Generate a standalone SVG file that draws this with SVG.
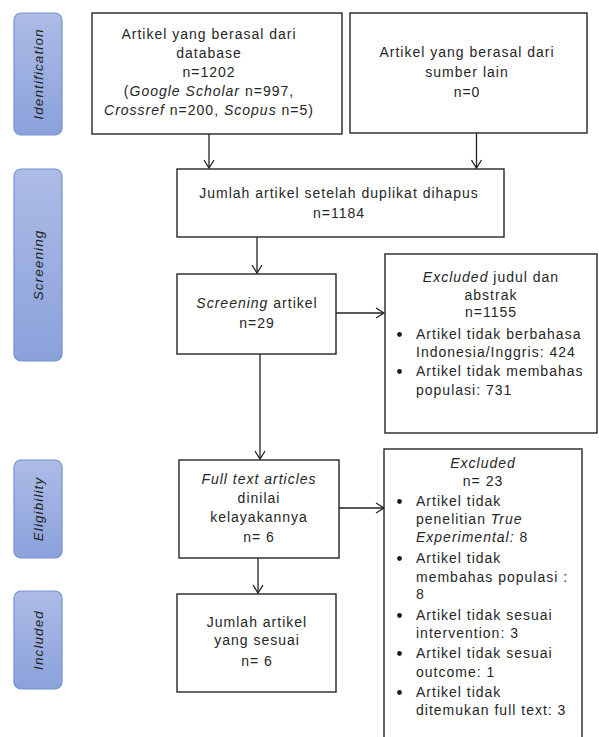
<svg xmlns="http://www.w3.org/2000/svg" width="599" height="737" viewBox="0 0 599 737">
<defs>
<linearGradient id="lblGrad" x1="0" y1="0" x2="0" y2="1">
<stop offset="0" stop-color="#adbce6"/>
<stop offset="1" stop-color="#8aa1db"/>
</linearGradient>
<marker id="arr" markerUnits="userSpaceOnUse" markerWidth="12" markerHeight="12" viewBox="-10 -6 12 12" refX="0" refY="0" orient="auto">
<path d="M-8,-5 L0,0 L-8,5" fill="none" stroke="#222" stroke-width="1.3"/>
</marker>
<style>
.box{fill:#fff;stroke:#262626;stroke-width:1.4}
.lbl{fill:url(#lblGrad);stroke:#7391d2;stroke-width:1.2}
.t{font-family:"Liberation Sans",Arial,sans-serif;font-size:14px;letter-spacing:1px;fill:#262626}
.c{text-anchor:middle}
.lt{font-family:"Liberation Sans",Arial,sans-serif;font-size:13.5px;font-style:italic;letter-spacing:1.1px;fill:#222;text-anchor:middle}
.i{font-style:italic}
.con{fill:none;stroke:#222;stroke-width:1.3;marker-end:url(#arr)}
.dot{fill:#1a1a1a}
</style>
</defs>
<rect width="599" height="737" fill="#fff"/>

<g id="label-identification">
<rect class="lbl" x="14" y="13" width="48" height="122" rx="7"/>
<text class="lt" transform="translate(42.5,74) rotate(-90)">Identification</text>
</g>
<g id="label-screening">
<rect class="lbl" x="14" y="169" width="48" height="192" rx="7"/>
<text class="lt" transform="translate(42.5,265) rotate(-90)">Screening</text>
</g>
<g id="label-eligibility">
<rect class="lbl" x="14" y="460" width="48" height="98" rx="7"/>
<text class="lt" transform="translate(42.5,509) rotate(-90)">Eligibility</text>
</g>
<g id="label-included">
<rect class="lbl" x="14" y="591" width="48" height="98" rx="7"/>
<text class="lt" transform="translate(42.5,640) rotate(-90)">Included</text>
</g>

<g id="connectors">
<path class="con" d="M209,134 V168"/>
<path class="con" d="M476.5,133 V168"/>
<path class="con" d="M257,237 V273"/>
<path class="con" d="M336,313 H384"/>
<path class="con" d="M260,354 V459"/>
<path class="con" d="M339,508 H384"/>
<path class="con" d="M258,558 V593"/>
</g>

<g id="node-database">
<rect class="box" x="92" y="13" width="250" height="121"/>
<text class="t c" x="209" y="39">Artikel yang berasal dari</text>
<text class="t c" x="209" y="58">database</text>
<text class="t c" x="209" y="77">n=1202</text>
<text class="t c" x="209" y="96">(<tspan class="i">Google Scholar</tspan> n=997,</text>
<text class="t c" x="209" y="115"><tspan class="i">Crossref</tspan> n=200, <tspan class="i">Scopus</tspan> n=5)</text>
</g>

<g id="node-other">
<rect class="box" x="350" y="13" width="237" height="120"/>
<text class="t c" x="467" y="57">Artikel yang berasal dari</text>
<text class="t c" x="467" y="77">sumber lain</text>
<text class="t c" x="467" y="97">n=0</text>
</g>

<g id="node-duplicates">
<rect class="box" x="177" y="169" width="327" height="68"/>
<text class="t c" x="339" y="198">Jumlah artikel setelah duplikat dihapus</text>
<text class="t c" x="339" y="218">n=1184</text>
</g>

<g id="node-screening">
<rect class="box" x="177" y="274" width="159" height="80"/>
<text class="t c" x="257" y="308"><tspan class="i">Screening</tspan> artikel</text>
<text class="t c" x="257" y="328">n=29</text>
</g>

<g id="node-excluded1">
<rect class="box" x="385" y="254" width="212" height="179"/>
<text class="t c" x="491" y="282"><tspan class="i">Excluded</tspan> judul dan</text>
<text class="t c" x="491" y="300">abstrak</text>
<text class="t c" x="491" y="317">n=1155</text>
<circle class="dot" cx="399.5" cy="334.5" r="2.4"/>
<text class="t" x="416" y="339">Artikel tidak berbahasa</text>
<text class="t" x="416" y="357">Indonesia/Inggris: 424</text>
<circle class="dot" cx="399.5" cy="371.5" r="2.4"/>
<text class="t" x="416" y="376">Artikel tidak membahas</text>
<text class="t" x="416" y="395">populasi: 731</text>
</g>

<g id="node-fulltext">
<rect class="box" x="179" y="460" width="160" height="98"/>
<text class="t c" x="259" y="484" font-style="italic">Full text articles</text>
<text class="t c" x="259" y="503">dinilai</text>
<text class="t c" x="259" y="522">kelayakannya</text>
<text class="t c" x="259" y="542">n= 6</text>
</g>

<g id="node-excluded2">
<rect class="box" x="384" y="449" width="198" height="300"/>
<text class="t c" x="483" y="468" font-style="italic">Excluded</text>
<text class="t c" x="483" y="486">n= 23</text>
<circle class="dot" cx="399.5" cy="501.5" r="2.4"/>
<text class="t" x="416" y="506">Artikel tidak</text>
<text class="t" x="416" y="524">penelitian <tspan class="i">True</tspan></text>
<text class="t" x="416" y="542"><tspan class="i">Experimental:</tspan> 8</text>
<circle class="dot" cx="399.5" cy="558.5" r="2.4"/>
<text class="t" x="416" y="563">Artikel tidak</text>
<text class="t" x="416" y="582">membahas populasi :</text>
<text class="t" x="416" y="599">8</text>
<circle class="dot" cx="399.5" cy="615.5" r="2.4"/>
<text class="t" x="416" y="620">Artikel tidak sesuai</text>
<text class="t" x="416" y="638">intervention: 3</text>
<circle class="dot" cx="399.5" cy="653.5" r="2.4"/>
<text class="t" x="416" y="658">Artikel tidak sesuai</text>
<text class="t" x="416" y="677">outcome: 1</text>
<circle class="dot" cx="399.5" cy="692.5" r="2.4"/>
<text class="t" x="416" y="697">Artikel tidak</text>
<text class="t" x="416" y="715">ditemukan full text: 3</text>
</g>

<g id="node-included">
<rect class="box" x="177" y="594" width="159" height="98"/>
<text class="t c" x="257" y="627">Jumlah artikel</text>
<text class="t c" x="257" y="645">yang sesuai</text>
<text class="t c" x="257" y="666">n= 6</text>
</g>
</svg>
